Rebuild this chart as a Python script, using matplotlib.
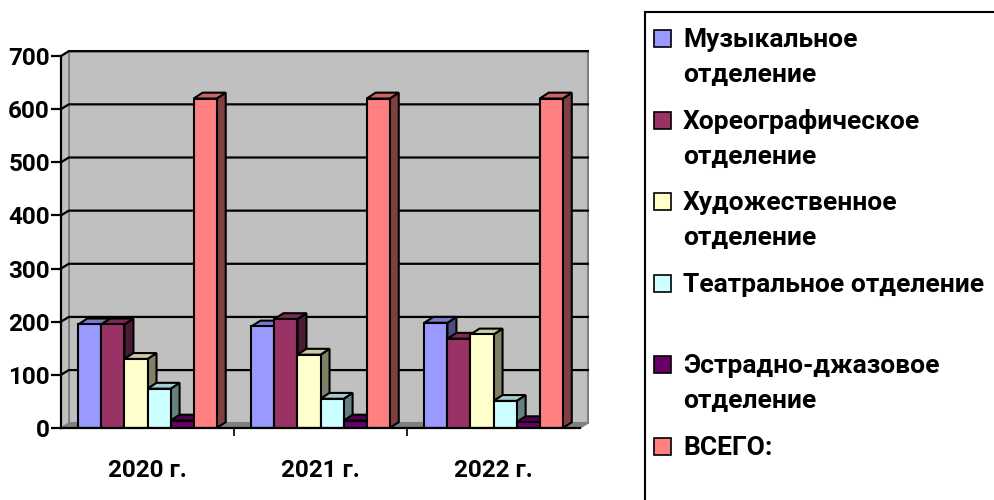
import numpy as np
import matplotlib.pyplot as plt
from matplotlib.patches import Polygon, Rectangle
from matplotlib.colors import to_rgb

plt.rcParams['font.family'] = ['Roboto', 'DejaVu Sans']
plt.rcParams['font.weight'] = 'bold'

years = ["2020 г.", "2021 г.", "2022 г."]
series_names = [
    "Музыкальное\nотделение",
    "Хореографическое\nотделение",
    "Художественное\nотделение",
    "Театральное отделение\n",
    "Эстрадно-джазовое\nотделение",
    "ВСЕГО:",
]
music = [195, 191, 198]
choreo = [195, 205, 168]
art = [130, 138, 176]
theatre = [74, 55, 51]
jazz = [14, 14, 11]
total = [620, 620, 620]
series = [music, choreo, art, theatre, jazz, total]
colors = ["#9999FF", "#993366", "#FFFFCC", "#CCFFFF", "#660066", "#FF8080"]

FS_AX = 17.5
FS_LEG = 19


def shade(c, k):
    r, g, b = to_rgb(c)
    return (r * k, g * k, b * k)


fig = plt.figure(figsize=(9.95, 5.0), dpi=100)
ax = fig.add_axes([61 / 995, 1 - 428 / 500, (587 - 61) / 995, (428 - 56) / 500])
ax.set_xlim(-0.5, 2.54)
ax.set_ylim(0, 700)
ax.set_facecolor("white")

# back wall, side wall, floor
wdx, wdy = 0.045, 9
ax.add_patch(Polygon([(-0.5 + wdx, wdy), (2.5 + wdx, wdy), (2.5 + wdx, 700 + wdy), (-0.5 + wdx, 700 + wdy)],
                     closed=True, facecolor="#C0C0C0", edgecolor="#808080", lw=1.5, clip_on=False, zorder=0))
ax.add_patch(Polygon([(-0.5, 0), (-0.5 + wdx, wdy), (-0.5 + wdx, 700 + wdy), (-0.5, 700)],
                     closed=True, facecolor="#C0C0C0", edgecolor="#808080", lw=1.0, clip_on=False, zorder=0))
ax.add_patch(Polygon([(-0.5, 0), (2.5, 0), (2.5 + wdx, wdy), (-0.5 + wdx, wdy)],
                     closed=True, facecolor="#808080", edgecolor="#808080", lw=1.0, clip_on=False, zorder=0.5))
for v in range(100, 701, 100):
    ax.plot([-0.5, -0.5 + wdx, 2.5 + wdx], [v, v + wdy, v + wdy], color="black", lw=1.6, zorder=1, clip_on=False)

# 3D-ish bars
n = len(series)
bw = 0.8 / n
bdx, bdy = 0.052, 11
x = np.arange(len(years))
for i, (vals, c) in enumerate(zip(series, colors)):
    xs = x - 0.4 + i * bw
    z = 2 + i
    ax.bar(xs, vals, width=bw, align="edge", color=c, edgecolor="black", lw=1.5, zorder=z + 0.5)
    for xl, v in zip(xs, vals):
        xr = xl + bw
        side = [(xr, 0), (xr + bdx, bdy), (xr + bdx, v + bdy), (xr, v)]
        top = [(xl, v), (xr, v), (xr + bdx, v + bdy), (xl + bdx, v + bdy)]
        ax.add_patch(Polygon(side, closed=True, facecolor=shade(c, 0.5), edgecolor="black", lw=1.5, zorder=z))
        ax.add_patch(Polygon(top, closed=True, facecolor=shade(c, 0.8), edgecolor="black", lw=1.5, zorder=z))

for s in ["top", "right"]:
    ax.spines[s].set_visible(False)
ax.spines["left"].set_linewidth(1.6)
ax.spines["bottom"].set_linewidth(1.6)
ax.spines["bottom"].set_bounds(-0.5, 2.5)
ax.spines["left"].set_zorder(20)
ax.spines["bottom"].set_zorder(20)

ax.set_yticks(range(0, 701, 100))
ax.tick_params(axis="y", direction="out", length=7, width=1.6, pad=1, labelsize=FS_AX)
ax.set_xticks(x)
ax.set_xticklabels(years, fontsize=FS_AX, fontweight="bold")
ax.tick_params(axis="x", length=0, pad=22)
ax.set_xticks([0.5, 1.5], minor=True)
ax.tick_params(axis="x", which="minor", direction="out", length=6, width=1.2)
for lab in ax.get_yticklabels():
    lab.set_fontweight("bold")

# legend box
fig.patches.append(Rectangle((645 / 995, -0.1), 0.5, 1 - 12 / 500 + 0.1, transform=fig.transFigure,
                             fill=False, edgecolor="black", lw=1.5))
base_y = 47
step = 81.6
line_gap = 35
for i, (name, c) in enumerate(zip(series_names, colors)):
    by = base_y + i * step
    fig.patches.append(Rectangle((654 / 995, 1 - by / 500), 17 / 995, 17 / 500, transform=fig.transFigure,
                                 facecolor=c, edgecolor="black", lw=1.2))
    for j, line in enumerate(name.split("\n")):
        if line:
            fig.text(683 / 995, 1 - (by + j * line_gap) / 500, line, fontsize=FS_LEG, fontweight="bold",
                     ha="left", va="baseline")

fig.savefig("out.png", dpi=100)
